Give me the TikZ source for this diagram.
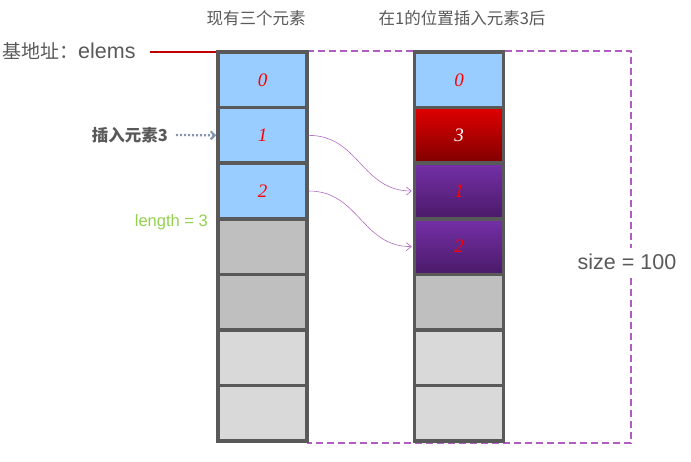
\documentclass[tikz,border=0pt]{standalone}
\usepackage{fontspec}
\setmainfont{Liberation Sans}
\newfontfamily\cjk{Noto Sans CJK SC}
\newfontfamily\numfont{Liberation Serif}
\usetikzlibrary{arrows.meta}
\definecolor{cellblue}{HTML}{99CCFF}
\definecolor{cellgray}{HTML}{BFBFBF}
\definecolor{celllight}{HTML}{D9D9D9}
\definecolor{cellborder}{HTML}{595959}
\definecolor{dashpurple}{HTML}{B05CC0}
\definecolor{curvepurple}{HTML}{B36BC4}
\definecolor{txtgray}{HTML}{595959}
\definecolor{lengreen}{HTML}{92D050}
\definecolor{slate}{HTML}{8497B0}
\definecolor{baseRed}{HTML}{C00000}
\definecolor{HTMLpurpleTop}{HTML}{7530A8}
\definecolor{HTMLpurpleBot}{HTML}{4A1A68}
\tikzset{
  cell/.style={draw=cellborder, line width=3.5pt, minimum width=89pt, minimum height=55.6pt, inner sep=0pt, font=\numfont\itshape\fontsize{19}{19}\selectfont, text=red},
  bluecell/.style={cell, fill=cellblue},
  graycell/.style={cell, fill=cellgray},
  lightcell/.style={cell, fill=celllight},
  redcell/.style={cell, top color=red!88!black, bottom color=red!50!black, text=white},
  purplecell/.style={cell, top color=HTMLpurpleTop, bottom color=HTMLpurpleBot},
  title/.style={font=\cjk\fontsize{16.5}{16.5}\selectfont, text=txtgray},
  sizedash/.style={dashpurple, line width=2pt, dash pattern=on 7pt off 4pt},
  movecurve/.style={draw=curvepurple, line width=0.6pt, -{Straight Barb[length=5pt,width=8pt]}},
}
\begin{document}
\begin{tikzpicture}[x=1pt,y=-1pt]
\useasboundingbox (0,0) rectangle (691,462);
% dashed size box
\draw[sizedash] (307,51.5) -- (631,51.5) -- (631,248);
\draw[sizedash] (631,278) -- (631,443) -- (307,443);
\node[font=\fontsize{21.5}{21.5}\selectfont, text=txtgray] (size) at (627,262) {size = 100};
% left column
\foreach \i/\s/\t in {0/bluecell/0,1/bluecell/1,2/bluecell/2,3/graycell/,4/graycell/,5/lightcell/,6/lightcell/}{
  \node[\s] (L\i) at (262.5,{52+55.6*(\i+0.5)}) {\t};
}
% right column
\node[bluecell] (R0) at (459,{52+55.6*0.5}) {0};
\node[redcell] (R1) at (459,{52+55.6*1.5}) {3};
\node[purplecell] (R2) at (459,{52+55.6*2.5}) {1};
\node[purplecell] (R3) at (459,{52+55.6*3.5}) {2};
\node[graycell] (R4) at (459,{52+55.6*4.5}) {};
\node[lightcell] (R5) at (459,{52+55.6*5.5}) {};
\node[lightcell] (R6) at (459,{52+55.6*6.5}) {};
% titles
\node[title] (t1) at (256,18) {现有三个元素};
\node[title] (t2) at (462,18) {在1的位置插入元素3后};
% base address
\node[anchor=west, text=txtgray, inner sep=0pt] (base) at (2,51) {{\cjk\fontsize{19}{19}\selectfont 基地址：}{\fontsize{21.5}{21.5}\selectfont elems}};
\draw[baseRed, line width=1.8pt] ([yshift=-1.75pt]L0.north west) -- ++(-66,0);
% insert label
\node[anchor=east, text=txtgray, font=\cjk\bfseries\fontsize{16.5}{16.5}\selectfont, inner sep=0pt] (ins) at (168,135) {插入元素3};
\draw[slate, line width=2.2pt, dash pattern=on 2pt off 2pt, -{Straight Barb[length=4pt,width=8pt]}] ([xshift=8pt]ins.east) -- (L1.west);
% length label
\node[anchor=east, text=lengreen, font=\fontsize{16.5}{16.5}\selectfont, inner sep=0pt] (len) at (208,222) {length = 3};
% move curves
\draw[movecurve] (L1.east) to[out=0,in=180,looseness=1.1] ([xshift=-1pt]R2.west);
\draw[movecurve] (L2.east) to[out=0,in=180,looseness=1.1] ([xshift=-1pt]R3.west);
\end{tikzpicture}
\end{document}
